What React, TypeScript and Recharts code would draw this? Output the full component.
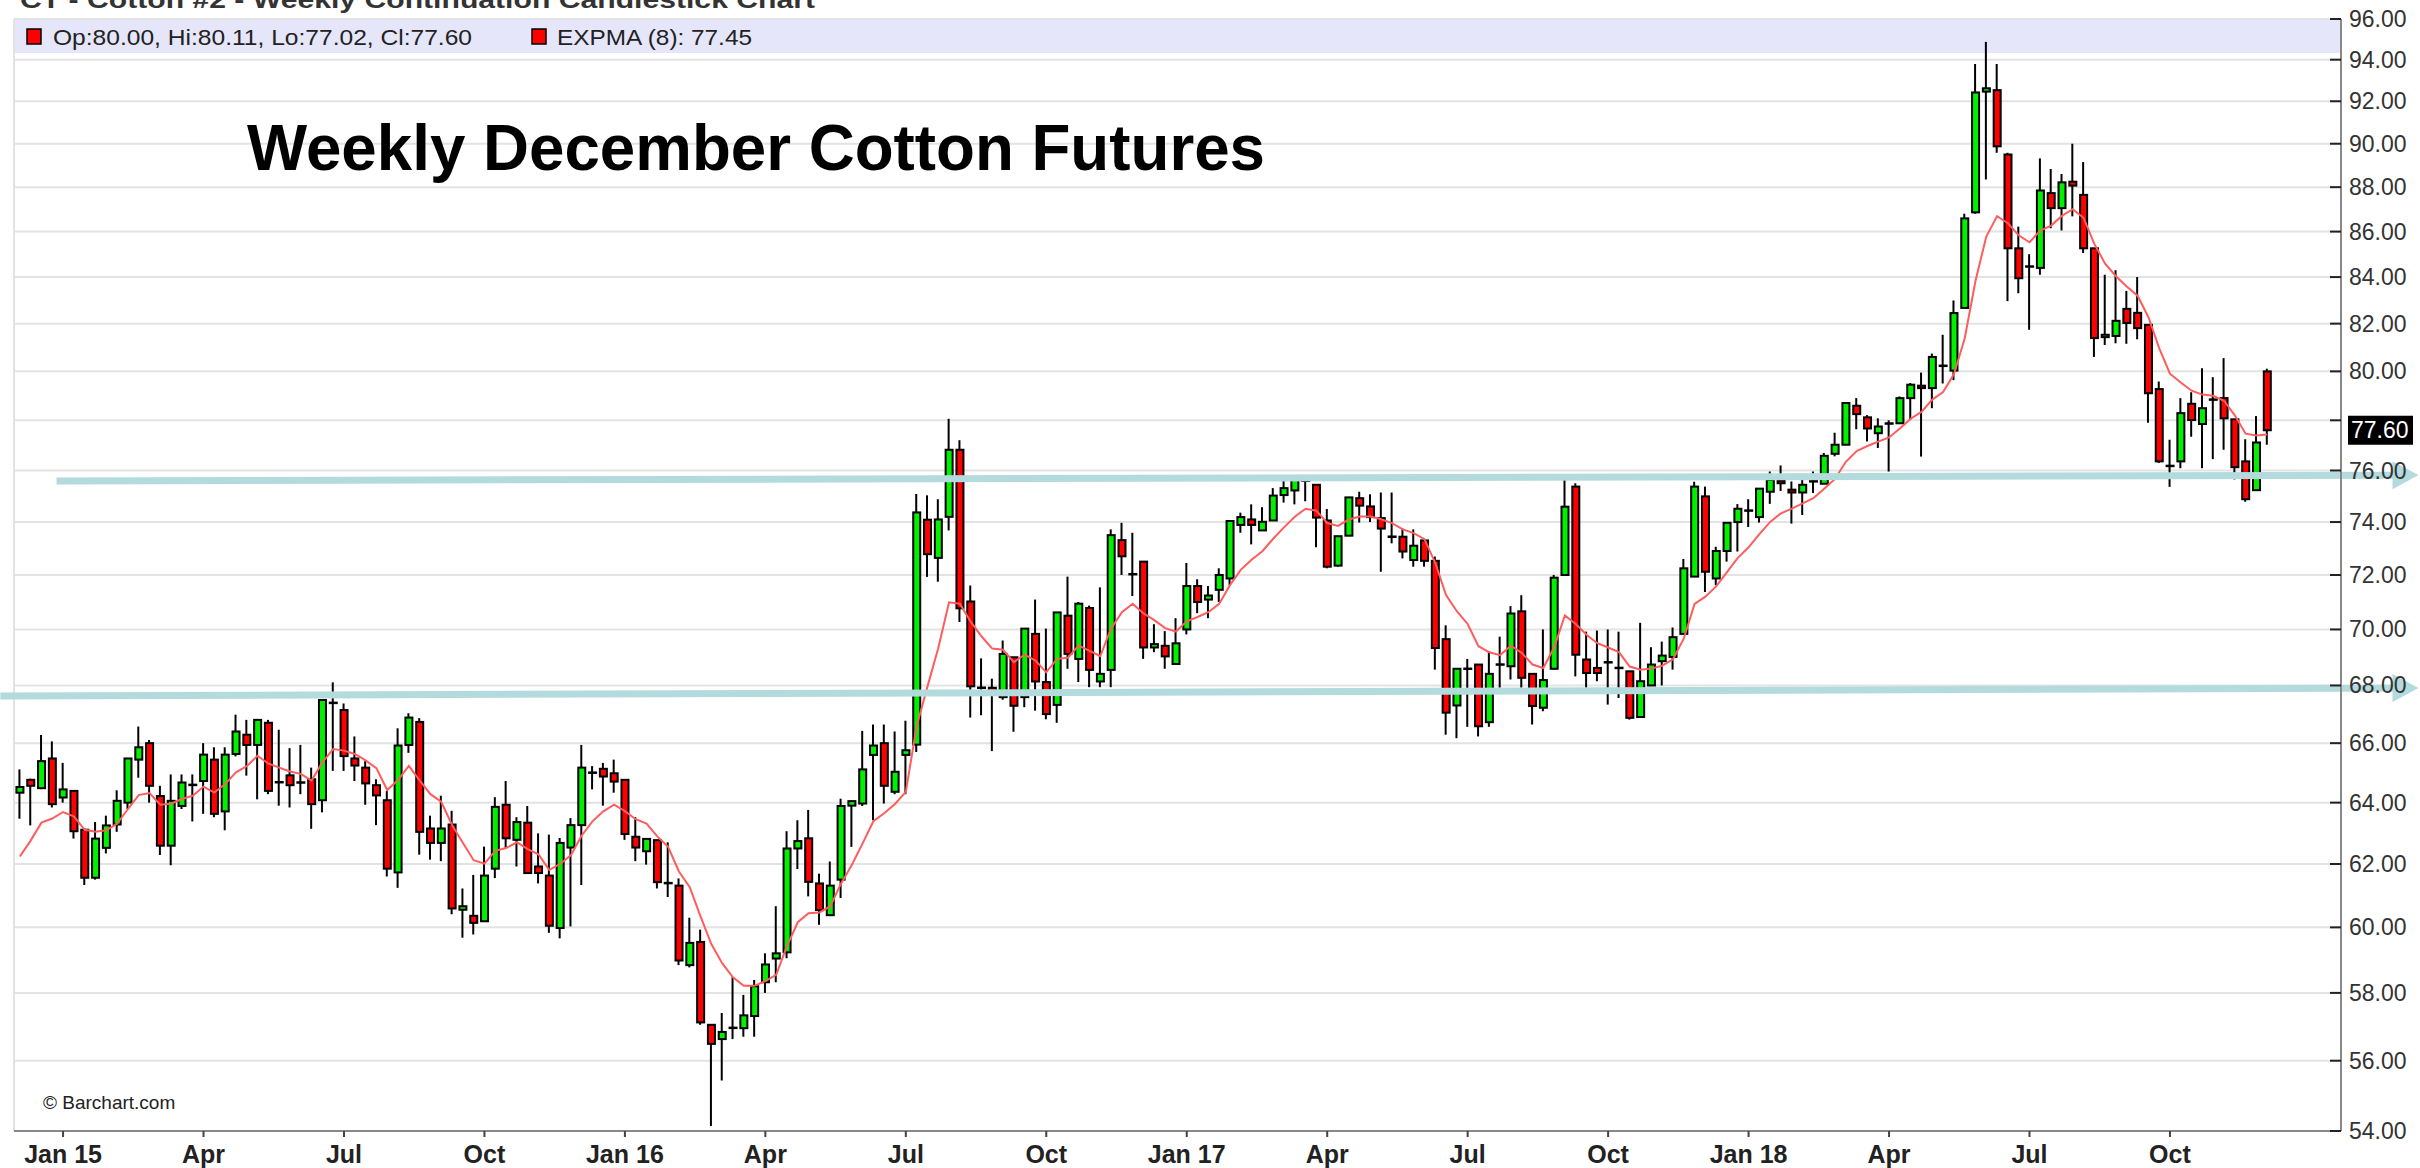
import React from 'react';
import {
  ComposedChart,
  Bar,
  Line,
  XAxis,
  YAxis,
  CartesianGrid,
  ReferenceLine
} from 'recharts';

// Weekly bars, index 0 = week of 8 Dec 2014, last = week of 3 Dec 2018
const OPEN = [
  64.33, 64.76, 64.48, 65.48, 64.17, 64.39, 63.11, 61.56, 62.52, 63.28,
  64.0, 65.44, 66.0, 64.22, 62.59, 63.89, 64.58, 64.72, 65.44, 63.71,
  65.63, 66.29, 65.94, 66.7, 64.67, 64.91, 64.66, 64.78, 64.08, 67.4,
  67.14, 65.48, 65.17, 64.58, 64.08, 61.73, 65.94, 66.73, 63.15, 62.68,
  63.28, 60.55, 60.36, 60.19, 61.85, 63.93, 62.78, 63.34, 61.92, 61.63,
  59.98, 62.53, 63.26, 65.01, 65.13, 64.98, 64.76, 62.88, 62.41, 62.77,
  61.4, 61.31, 58.84, 59.55, 57.05, 56.63, 56.95, 56.95, 57.31, 58.32,
  59.04, 59.23, 62.5, 62.83, 61.38, 60.38, 61.5, 63.9, 63.97, 65.6,
  66.0, 64.36, 65.6, 65.95, 74.09, 72.64, 74.2, 76.82, 71.02, 67.93,
  67.92, 67.59, 69.0, 67.59, 69.84, 68.12, 67.32, 70.5, 68.94, 70.78,
  68.14, 68.55, 73.31, 72.04, 72.5, 69.35, 69.41, 68.76, 70.0, 71.59,
  71.09, 71.45, 71.87, 73.89, 74.1, 73.68, 74.06, 75.04, 75.22, 75.61,
  75.44, 74.06, 72.35, 73.48, 74.92, 74.6, 74.15, 73.45, 73.44, 72.56,
  73.3, 72.53, 69.65, 67.3, 68.6, 68.74, 66.72, 68.75, 68.68, 70.66,
  68.41, 67.22, 68.59, 72.0, 75.37, 68.92, 68.62, 68.83, 68.63, 68.5,
  66.9, 68.0, 68.86, 69.01, 69.84, 71.94, 74.99, 71.87, 72.9, 74.0,
  74.45, 74.19, 75.17, 75.6, 75.25, 75.14, 75.55, 75.48, 76.66, 77.02,
  78.59, 78.12, 77.48, 77.83, 77.88, 78.9, 79.41, 79.31, 80.24, 80.03,
  82.67, 86.86, 92.46, 92.53, 89.5, 85.26, 84.47, 84.4, 87.73, 87.05,
  88.25, 87.65, 85.26, 81.43, 81.48, 82.63, 82.46, 81.95, 79.27, 76.19,
  76.36, 78.67, 77.85, 78.85, 78.9, 78.04, 76.36, 75.23, 80.0
];

const HIGH = [
  65.11, 64.8, 66.28, 66.06, 65.33, 64.4, 63.15, 63.36, 63.57, 64.41,
  65.5, 66.57, 66.11, 64.56, 64.94, 64.94, 64.94, 66.0, 65.86, 65.86,
  66.98, 66.8, 66.8, 66.8, 66.46, 65.83, 65.94, 65.17, 67.5, 68.11,
  67.37, 66.23, 65.39, 64.78, 64.39, 66.51, 67.03, 66.86, 63.57, 64.23,
  63.73, 61.22, 61.65, 62.56, 64.18, 64.72, 63.52, 63.89, 62.99, 62.95,
  62.84, 63.49, 65.94, 65.22, 65.33, 65.44, 64.76, 63.52, 62.84, 62.77,
  62.7, 61.54, 60.3, 59.93, 57.05, 57.4, 58.48, 57.94, 58.39, 59.2,
  60.66, 63.06, 63.42, 63.76, 61.69, 62.08, 64.13, 64.06, 66.42, 66.64,
  66.64, 66.4, 66.77, 75.08, 75.03, 74.88, 78.06, 77.2, 71.61, 68.96,
  68.24, 69.6, 69.0, 70.03, 71.09, 70.03, 70.62, 71.94, 71.0, 70.87,
  71.54, 73.72, 73.97, 73.59, 72.5, 70.19, 69.94, 70.41, 72.45, 71.84,
  71.59, 72.25, 74.04, 74.36, 74.68, 74.57, 75.31, 75.63, 75.63, 75.65,
  75.44, 74.5, 73.46, 74.95, 75.17, 75.07, 75.14, 75.14, 73.75, 73.72,
  73.31, 72.69, 70.15, 68.59, 68.94, 68.74, 69.21, 69.74, 70.85, 71.25,
  68.44, 70.0, 72.0, 75.63, 75.5, 69.92, 69.96, 70.0, 69.92, 68.5,
  70.24, 69.36, 69.56, 70.07, 72.6, 75.56, 75.37, 73.06, 73.97, 74.69,
  74.88, 75.29, 75.96, 76.2, 75.57, 75.77, 75.96, 76.69, 77.5, 78.7,
  78.9, 78.21, 78.08, 78.0, 78.97, 79.52, 79.95, 80.74, 81.53, 82.99,
  86.8, 93.79, 94.87, 93.79, 89.58, 86.22, 85.0, 89.32, 88.83, 88.6,
  90.0, 89.15, 85.26, 84.1, 84.3, 83.4, 84.0, 81.95, 79.58, 77.22,
  78.9, 79.14, 80.13, 79.76, 80.55, 78.04, 77.24, 78.17, 80.11
];

const LOW = [
  63.47, 63.25, 64.45, 63.84, 64.0, 62.82, 61.33, 61.5, 62.34, 63.04,
  63.79, 64.83, 64.0, 62.29, 61.96, 63.79, 63.38, 63.63, 63.52, 63.09,
  65.55, 64.9, 64.11, 64.28, 63.9, 63.84, 64.28, 63.14, 63.68, 65.06,
  65.06, 64.72, 63.93, 63.26, 61.6, 61.24, 65.67, 62.3, 62.14, 62.09,
  60.41, 59.68, 59.78, 60.19, 61.55, 62.51, 61.92, 61.71, 61.38, 59.83,
  59.66, 60.03, 61.33, 64.44, 63.9, 64.33, 62.78, 62.09, 61.98, 61.22,
  60.95, 58.84, 58.77, 57.05, 54.14, 55.43, 56.63, 56.7, 56.7, 58.0,
  58.32, 59.05, 61.84, 60.97, 60.08, 60.38, 60.92, 62.55, 63.89, 63.42,
  63.97, 64.28, 64.28, 65.7, 71.93, 71.75, 73.68, 70.27, 66.88, 66.96,
  65.73, 67.5, 66.39, 67.24, 67.12, 66.82, 66.7, 68.59, 68.12, 67.94,
  67.94, 67.94, 72.0, 71.22, 68.94, 69.18, 68.59, 68.76, 69.82, 70.59,
  70.41, 71.0, 71.62, 73.59, 73.15, 73.68, 74.06, 74.75, 74.68, 74.8,
  73.04, 72.25, 72.31, 73.48, 73.98, 74.0, 72.12, 73.19, 72.62, 72.31,
  72.31, 68.56, 66.29, 66.17, 66.56, 66.23, 66.56, 67.92, 68.21, 67.92,
  66.64, 67.1, 68.56, 72.0, 68.32, 67.92, 68.15, 67.33, 67.56, 66.81,
  66.9, 68.0, 68.0, 68.56, 69.84, 71.94, 71.37, 71.62, 72.5, 72.88,
  73.81, 73.98, 74.7, 75.2, 73.94, 74.27, 75.12, 75.48, 76.56, 77.02,
  77.64, 77.15, 76.89, 75.96, 77.88, 78.01, 76.55, 78.49, 79.5, 79.64,
  82.67, 86.8, 88.35, 89.58, 82.96, 83.3, 81.74, 84.1, 86.15, 86.05,
  86.68, 85.05, 80.6, 81.1, 81.17, 81.15, 81.34, 77.9, 76.3, 75.36,
  76.09, 77.34, 76.09, 76.45, 76.82, 75.65, 74.78, 75.23, 77.02
];

const CLOSE = [
  64.52, 64.56, 65.39, 63.95, 64.44, 63.06, 61.56, 62.82, 63.25, 64.06,
  65.48, 65.86, 64.56, 62.59, 64.06, 64.67, 64.6, 65.61, 63.63, 65.61,
  66.4, 65.94, 66.8, 64.39, 64.69, 64.58, 64.68, 63.95, 67.49, 67.38,
  65.56, 65.24, 64.64, 64.24, 61.85, 65.92, 66.88, 63.04, 62.68, 63.15,
  60.59, 60.66, 60.14, 61.63, 63.86, 62.83, 63.36, 61.71, 61.71, 60.05,
  62.68, 63.26, 65.17, 64.99, 64.87, 64.7, 62.97, 62.53, 62.81, 61.42,
  61.38, 58.98, 59.52, 57.12, 56.49, 56.84, 56.97, 57.33, 58.2, 58.86,
  59.2, 62.5, 62.74, 61.43, 60.54, 61.31, 63.89, 64.05, 65.11, 65.92,
  64.56, 65.03, 65.76, 74.37, 72.78, 74.1, 76.82, 70.77, 67.97, 67.91,
  67.76, 69.12, 67.29, 70.03, 68.14, 67.0, 70.62, 69.12, 70.94, 68.55,
  68.41, 73.5, 72.7, 72.02, 69.35, 69.47, 69.03, 69.5, 71.59, 71.0,
  71.24, 72.0, 74.04, 74.19, 73.89, 74.01, 75.02, 75.31, 75.63, 75.59,
  74.17, 72.31, 73.46, 74.95, 74.63, 74.19, 73.75, 73.43, 72.88, 73.1,
  72.53, 69.33, 67.05, 68.59, 68.58, 66.58, 68.41, 68.73, 70.58, 68.27,
  67.28, 68.19, 71.9, 74.59, 69.09, 68.44, 68.44, 68.81, 68.61, 66.87,
  68.15, 68.74, 69.06, 69.72, 72.25, 75.37, 72.12, 72.9, 73.97, 74.51,
  74.43, 75.29, 75.64, 75.5, 75.14, 75.44, 75.6, 76.58, 77.02, 78.7,
  78.25, 77.67, 77.75, 77.91, 78.9, 79.45, 79.31, 80.6, 80.22, 82.45,
  86.59, 92.42, 92.62, 89.88, 85.26, 83.95, 84.45, 87.85, 87.05, 88.22,
  88.07, 85.26, 81.39, 81.53, 82.12, 82.03, 81.81, 79.1, 76.36, 76.17,
  78.29, 78.01, 78.49, 78.83, 78.08, 76.13, 74.88, 77.11, 77.6
];

// first week of each quarter (labelled) and of each month (grid)
const QUARTER_WEEKS = [4, 17, 30, 43, 56, 69, 82, 95, 108, 121, 134, 147, 160, 173, 186, 199];
const QUARTER_LABELS = [
  'Jan 15', 'Apr', 'Jul', 'Oct', 'Jan 16', 'Apr', 'Jul', 'Oct',
  'Jan 17', 'Apr', 'Jul', 'Oct', 'Jan 18', 'Apr', 'Jul', 'Oct'
];
const MONTH_WEEKS = [
  4, 8, 12, 17, 21, 25, 30, 34, 39, 43, 47, 52,
  56, 60, 65, 69, 73, 78, 82, 86, 91, 95, 100, 104,
  108, 113, 117, 121, 125, 130, 134, 139, 143, 147, 152, 156,
  160, 165, 169, 173, 178, 182, 186, 191, 195, 199, 204, 208
];
const PRICE_TICKS = [54, 56, 58, 60, 62, 64, 66, 68, 70, 72, 74, 76, 78, 80, 82, 84, 86, 88, 90, 92, 94, 96];

const EMA_PERIOD = 8;
const EMA_FIRST = 62.24; // value drawn at the first bar (carried from older history)
const EMA_LEGEND = 77.45; // value printed in the legend

// hand-drawn support / resistance arrows: [week, price] at each end
const SUPPORT_LINE = [[-1.8, 67.63], [222, 67.91]];
const RESIST_LINE = [[3.4, 75.59], [222, 75.82]];

const W = 2420;
const H = 1168;
const X_DOMAIN = [-0.54, 214.83];
const GREEN = '#00f000';
const RED = '#ff0000';
const TEAL = '#b3dadd';
const FONT = "'Liberation Sans', Arial, sans-serif";

const EMA: number[] = [];
CLOSE.forEach((c, i) => {
  EMA.push(i === 0 ? EMA_FIRST : EMA[i - 1] + ((c - EMA[i - 1]) * 2) / (EMA_PERIOD + 1));
});

const LAST = CLOSE.length - 1;

const rows = OPEN.map((o, i) => ({
  i,
  wick: [LOW[i], HIGH[i]],
  body: [Math.min(o, CLOSE[i]), Math.max(o, CLOSE[i])],
  up: CLOSE[i] >= o,
  ema: EMA[i]
}));

const Wick = (props: any) => {
  const { x, y, width, height } = props;
  const cx = x + width / 2;
  return <line x1={cx} x2={cx} y1={y} y2={y + height} stroke="#000" strokeWidth={2} />;
};

const Body = (props: any) => {
  const { x, y, width, height, payload } = props;
  const top = Math.min(y, y + height);
  const h = Math.abs(height);
  if (h < 2) {
    const my = top + h / 2;
    return <line x1={x - 1} x2={x + width + 1} y1={my} y2={my} stroke="#000" strokeWidth={2.5} />;
  }
  return (
    <rect x={x} y={top} width={width} height={h} fill={payload.up ? GREEN : RED} stroke="#000" strokeWidth={2} />
  );
};

const Arrow = (props: any) => {
  const { x1, y1, x2, y2 } = props;
  const head = 26;
  const half = 14;
  const a = Math.atan2(y2 - y1, x2 - x1);
  const bx = x2 - head * Math.cos(a);
  const by = y2 - head * Math.sin(a);
  const nx = -Math.sin(a) * half;
  const ny = Math.cos(a) * half;
  return (
    <g>
      <line x1={x1} y1={y1} x2={bx + 1} y2={by} stroke={TEAL} strokeWidth={7} />
      <polygon points={`${x2},${y2} ${bx + nx},${by + ny} ${bx - nx},${by - ny}`} fill={TEAL} />
    </g>
  );
};

const PriceTag = (props: any) => {
  const { x1, x2, y1 } = props;
  const right = Math.max(x1, x2);
  return (
    <g>
      <rect x={right + 7} y={y1 - 14.5} width={65} height={29} fill="#000" />
      <text x={right + 10} y={y1 + 8} fontSize={23} fill="#fff" fontFamily={FONT}>
        {CLOSE[LAST].toFixed(2)}
      </text>
    </g>
  );
};

const PriceTick = (props: any) => {
  const { x, y, payload } = props;
  const hidden = Math.abs(payload.value - CLOSE[LAST]) < 1.2;
  return (
    <g>
      <line x1={x - 11} x2={x} y1={y} y2={y} stroke="#222" strokeWidth={2} />
      {!hidden && (
        <text x={x + 8} y={y + 8} fontSize={23} fill="#333" fontFamily={FONT}>
          {payload.value.toFixed(2)}
        </text>
      )}
    </g>
  );
};

const QuarterTick = (props: any) => {
  const { x, y, payload } = props;
  const label = QUARTER_LABELS[QUARTER_WEEKS.indexOf(payload.value)];
  return (
    <text x={x} y={y + 24} textAnchor="middle" fontSize={25} fontWeight="bold" fill="#222" fontFamily={FONT}>
      {label}
    </text>
  );
};

export default function App() {
  return (
    <div
      style={{
        position: 'absolute',
        left: 0,
        top: 0,
        width: W,
        height: H,
        overflow: 'hidden',
        background: '#fff',
        fontFamily: FONT
      }}
    >
      {/* legend band behind the plot */}
      <div style={{ position: 'absolute', left: 14, top: 19, width: 2327, height: 34, background: '#e6e6fa' }} />

      <div style={{ position: 'absolute', left: 0, top: 0 }}>
        <ComposedChart width={W} height={H} data={rows} margin={{ top: 19, right: 0, bottom: 0, left: 14 }}>
          <XAxis
            xAxisId="q"
            dataKey="i"
            type="number"
            domain={X_DOMAIN}
            allowDataOverflow
            ticks={QUARTER_WEEKS}
            interval={0}
            height={37}
            tick={<QuarterTick />}
            tickSize={6}
            tickMargin={2}
            tickLine={{ stroke: '#444', strokeWidth: 2 }}
            axisLine={{ stroke: '#888', strokeWidth: 2 }}
          />
          <XAxis
            xAxisId="m"
            dataKey="i"
            type="number"
            domain={X_DOMAIN}
            allowDataOverflow
            ticks={MONTH_WEEKS}
            interval={0}
            height={0}
            tick={false}
            tickLine={false}
            axisLine={false}
          />
          <XAxis
            xAxisId="t"
            orientation="top"
            type="number"
            domain={X_DOMAIN}
            allowDataOverflow
            height={0}
            tick={false}
            tickLine={false}
            axisLine={{ stroke: '#999', strokeWidth: 2 }}
          />
          <YAxis
            orientation="right"
            type="number"
            scale="log"
            domain={[54, 96]}
            allowDataOverflow
            ticks={PRICE_TICKS}
            interval={0}
            width={79}
            tickSize={0}
            tickMargin={0}
            tickLine={false}
            tick={<PriceTick />}
            axisLine={{ stroke: '#888', strokeWidth: 2 }}
          />
          <YAxis
            yAxisId="f"
            orientation="left"
            type="number"
            domain={[0, 1]}
            width={0}
            tick={false}
            tickLine={false}
            axisLine={{ stroke: '#aaa', strokeWidth: 2 }}
          />
          <CartesianGrid xAxisId="m" stroke="#e3e3e3" strokeWidth={2} />

          <Line
            xAxisId="q"
            dataKey="ema"
            type="linear"
            stroke="#ff5c5c"
            strokeWidth={2}
            dot={false}
            activeDot={false}
            isAnimationActive={false}
          />
          <Bar xAxisId="m" dataKey="wick" barSize={2} shape={<Wick />} isAnimationActive={false} />
          <Bar xAxisId="q" dataKey="body" barSize={7} shape={<Body />} isAnimationActive={false} />

          <ReferenceLine
            xAxisId="q"
            segment={SUPPORT_LINE.map(([x, y]) => ({ x, y }))}
            ifOverflow="visible"
            shape={<Arrow />}
          />
          <ReferenceLine
            xAxisId="q"
            segment={RESIST_LINE.map(([x, y]) => ({ x, y }))}
            ifOverflow="visible"
            shape={<Arrow />}
          />
          <ReferenceLine xAxisId="q" y={CLOSE[LAST]} ifOverflow="visible" shape={<PriceTag />} />
        </ComposedChart>
      </div>

      <svg
        width={W}
        height={H}
        style={{ position: 'absolute', left: 0, top: 0, pointerEvents: 'none' }}
      >
        <text x={20} y={8} fontSize={24} fontWeight="bold" fill="#333" textLength={795} lengthAdjust="spacingAndGlyphs">
          CT - Cotton #2 - Weekly Continuation Candlestick Chart
        </text>
        <rect x={27} y={29} width={14} height={15} fill={RED} stroke="#000" strokeWidth={1.5} />
        <text x={53} y={45} fontSize={22} fill="#222" textLength={419} lengthAdjust="spacingAndGlyphs">
          {`Op:${OPEN[LAST].toFixed(2)}, Hi:${HIGH[LAST].toFixed(2)}, Lo:${LOW[LAST].toFixed(2)}, Cl:${CLOSE[LAST].toFixed(2)}`}
        </text>
        <rect x={532} y={29} width={14} height={15} fill={RED} stroke="#000" strokeWidth={1.5} />
        <text x={557} y={45} fontSize={22} fill="#222" textLength={195} lengthAdjust="spacingAndGlyphs">
          {`EXPMA (${EMA_PERIOD}): ${EMA_LEGEND.toFixed(2)}`}
        </text>
        <text x={247} y={170} fontSize={64} fontWeight="bold" fill="#000" textLength={1018} lengthAdjust="spacingAndGlyphs">
          Weekly December Cotton Futures
        </text>
        <text x={43} y={1109} fontSize={19} fill="#222">
          © Barchart.com
        </text>
      </svg>
    </div>
  );
}
